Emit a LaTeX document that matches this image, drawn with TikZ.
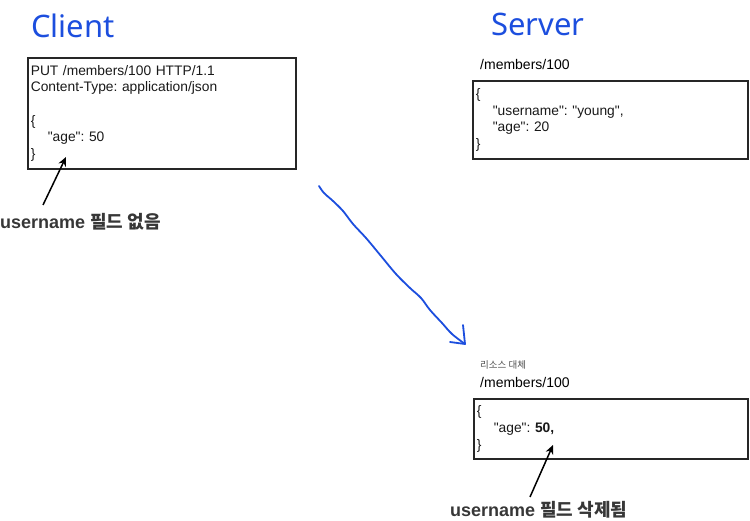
\documentclass[tikz,border=0pt]{standalone}
\usepackage{fontspec}
\setmainfont{Liberation Sans}[Ligatures=TeXOff]
\newfontfamily\kr{Noto Sans CJK KR}
\newfontfamily\hand{Noto Sans}
\usetikzlibrary{arrows.meta}
\definecolor{penblue}{RGB}{28,78,222}
\definecolor{labgray}{RGB}{55,55,55}
\newcommand{\qq}{{\char34}}
\tikzset{
  x=1pt, y=-1pt,
  title/.style={font=\hand\fontsize{31}{31}\selectfont, text=penblue, anchor=base west, inner sep=0pt},
  box/.style={draw=black!85, line width=1.6pt, anchor=north west, align=left, inner xsep=3pt, inner ysep=4.5pt,
              font=\fontsize{13.8}{16.7}\selectfont\frenchspacing, text=black!90},
  plain/.style={anchor=west, inner sep=0pt, font=\fontsize{14}{16}\selectfont},
  note/.style={anchor=west, inner sep=0pt, font=\fontsize{18}{20}\selectfont\bfseries, text=labgray},
  small/.style={anchor=west, inner sep=0pt, font=\kr\fontsize{9.5}{11}\selectfont, text=black!70},
  pointer/.style={line width=1.5pt, -{Stealth[length=9pt,width=8pt]}},
  stroke/.style={draw=penblue, line width=1.8pt, line cap=round, line join=round}
}
\begin{document}
\begin{tikzpicture}
\useasboundingbox (0,0) rectangle (750,521);
% titles
\node[title] (client) at (31,38) {Client};
\node[title] (server) at (491,36) {Server};
% client box
\node[box, minimum width=268pt, minimum height=111pt, text width=262pt] (cbox) at (27,57) {%
PUT /members/100 HTTP/1.1\\
Content-Type: application/json\\[16.7pt]
\{\\
\hspace*{17pt}\qq age\qq: 50\\
\}};
% client note
\node[note] (cnote) at (0,222) {username {\kr 필드 없음}};
\coordinate (ctail) at (43,205);
\coordinate (chead) at (66,157);
\draw[pointer] (ctail) -- (chead);
% server
\node[plain] (spath) at (480,64) {/members/100};
\node[box, minimum width=275pt, minimum height=78pt, text width=269pt] (sbox) at (472,80) {%
\{\\
\hspace*{17pt}\qq username\qq: \qq young\qq,\\
\hspace*{17pt}\qq age\qq: 20\\
\}};
% blue arrow
\coordinate (wstart) at (319,186);
\coordinate (wend) at (465,344);
\draw[stroke] plot[smooth, tension=0.6] coordinates {(319,186) (324,193) (333,201) (343,211) (353,224) (366,238) (381,256) (396,274) (410,288) (421,298) (430,310) (442,323) (452,334) (465,344)};
\draw[stroke] (463,325) -- (wend) -- (450,342);
% result
\node[small] (repl) at (480,365) {리소스 대체};
\node[plain] (rpath) at (480,382) {/members/100};
\node[box, minimum width=274pt, minimum height=60pt, text width=268pt] (rbox) at (473,398) {%
\{\\
\hspace*{17pt}\qq age\qq: \textbf{50,}\\
\}};
\node[note] (rnote) at (450,510) {username {\kr 필드 삭제됨}};
\coordinate (rtail) at (530,497);
\coordinate (rhead) at (553,445);
\draw[pointer] (rtail) -- (rhead);
\end{tikzpicture}
\end{document}
